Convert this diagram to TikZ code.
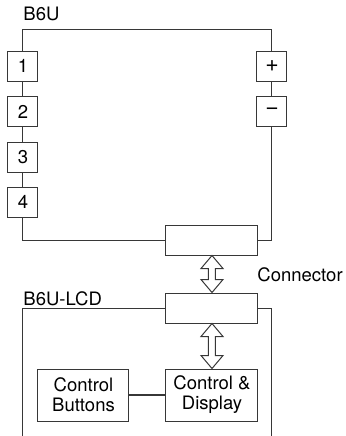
\documentclass[tikz,border=0pt]{standalone}
\usepackage{fontspec}
\setmainfont{TeX Gyre Heros}
\usetikzlibrary{calc, math, positioning}
\definecolor{linegray}{RGB}{55,55,55}

\begin{document}
\begin{tikzpicture}[x=0.5pt,y=-0.5pt,line width=0.5pt,
  every node/.style={font=\fontsize{9.25}{10}\selectfont},
  box/.style={draw=linegray,rectangle,inner sep=0pt,align=center},
  pin/.style={box,minimum width=15pt,minimum height=15pt},
  sign/.style={pin,font=\fontsize{11.5}{12}\selectfont},
  plug/.style={box,minimum width=46pt,minimum height=15pt},
  unit/.style={box,minimum height=26pt},
  wire/.style={draw=linegray},
  twoway/.style={draw=linegray,fill=white,line join=miter}]
\tikzmath{
\hw=11; \hl=13; \sw=3.5;
}

\useasboundingbox (0,0) rectangle (345,436);

% B6U
\node[anchor=base west,inner sep=0pt] (labtop) at (23,20.5) {B6U};
\foreach \n/\y in {1/66,2/111.5,3/157,4/202}
  \node[pin] (pin\n) at (23,\y) {\n};
\node[sign] (plus) at (272,66) {+};
\node[sign] (minus) at (272,111.5) {−};
\node[plug] (conA) at (212,240) {};

\draw[wire] (pin1.north) -- (23,29) -- (272,29) -- (plus.north);
\draw[wire] (pin1.south) -- (pin2.north);
\draw[wire] (pin2.south) -- (pin3.north);
\draw[wire] (pin3.south) -- (pin4.north);
\draw[wire] (plus.south) -- (minus.north);
\draw[wire] (pin4.south) -- (23,240) -- (conA.west);
\draw[wire] (minus.south) -- (272,240) -- (conA.east);

\node[anchor=base west,inner sep=0pt] (labcon) at (257,281.5) {Connector};

% B6U-LCD
\node[anchor=base west,inner sep=0pt] (labbot) at (23,305.5) {B6U-LCD};
\node[plug] (conB) at (212,308) {};
\node[unit,minimum width=46pt] (disp) at (212,395) {Control \&\\Display};
\node[unit,minimum width=45.5pt] (btns) at (83.5,395) {Control\\Buttons};

\draw[wire] (conB.west) -- (23,308) -- (23,436);
\draw[wire] (conB.east) -- (272,308) -- (272,436);
\draw[wire,line width=0.75pt] (btns.east) -- (disp.west);

% double arrows
\foreach \a/\b in {conA/conB,conB/disp}
  \draw[twoway] (\a.south) -- ++(\hw,\hl) -- ++(-\hw+\sw,0)
    -- ($(\b.north)+(\sw,-\hl)$) -- ++(\hw-\sw,0) -- (\b.north)
    -- ++(-\hw,-\hl) -- ++(\hw-\sw,0)
    -- ($(\a.south)+(-\sw,\hl)$) -- ++(-\hw+\sw,0) -- cycle;

\end{tikzpicture}
\end{document}
